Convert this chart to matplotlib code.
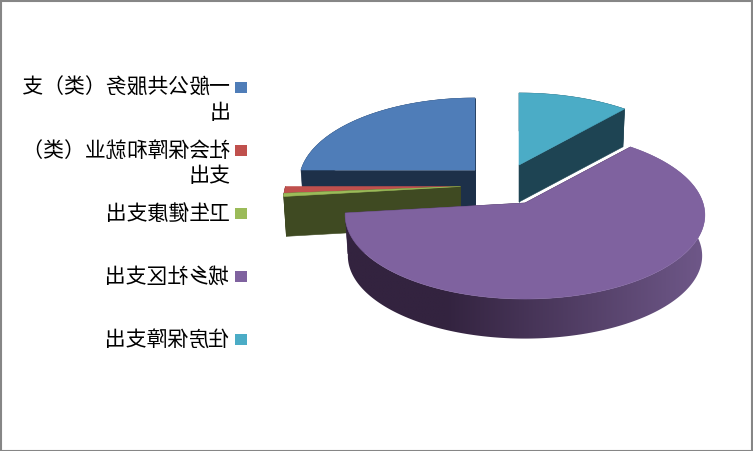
import numpy as np
import matplotlib
matplotlib.use("Agg")
import matplotlib.pyplot as plt
from matplotlib.patches import Polygon, Rectangle
from matplotlib.colors import LinearSegmentedColormap
from matplotlib.text import Text

plt.rcParams['font.family'] = ['Noto Sans CJK SC', 'DejaVu Sans']

categories = ["一般公共服务（类）支\n出", "社会保障和就业（类）\n支出", "卫生健康支出", "城乡社区支出", "住房保障支出"]
shares = [25.0, 1.3, 0.6, 61.7, 11.4]
top_colors = ["#4f7db8", "#c0504d", "#9bbb59", "#7f629f", "#4bacc6"]
side_colors = ["#1d3049", "#5a1f1e", "#3f4a22", "#33233f", "#1e4453"]
centers = [(475, 170), (460.5, 186.5), (460.5, 186.5), (525, 203), (519, 165)]
radii_x = [174, 175, 175, 178, 178]
depths = [37, 40, 40, 41, 37]
legend_y = [87.5, 150.5, 213.5, 276.5, 339]
text_y = [77, 140, 203, 266, 329]
RY, K, SHRINK = 82.3, 1 / 7, 0.985


class MirrorText(Text):
    """Real text, drawn reversed left-to-right in its own box as in the source image."""
    def draw(self, renderer):
        super().draw(renderer)
        bb = self.get_window_extent(renderer)
        h = int(renderer.height)
        x0, x1 = int(np.floor(bb.x0)) - 2, int(np.ceil(bb.x1)) + 2
        y0, y1 = h - int(np.ceil(bb.y1)) - 2, h - int(np.floor(bb.y0)) + 2
        buf = np.asarray(renderer.buffer_rgba())
        if buf.flags.writeable:
            buf[y0:y1, x0:x1] = buf[y0:y1, x0:x1][:, ::-1].copy()


def project(i, bearing, top=True, r=1.0):
    c = centers[i]
    t = np.radians(bearing)
    u, v = r * np.sin(t), r * np.cos(t)
    w = 1 + K * v
    s = 1.0 if top else SHRINK
    dy = 0 if top else depths[i]
    return c[0] + s * radii_x[i] * u / w, c[1] + dy - s * RY * v / w


fig = plt.figure(figsize=(7.53, 4.51), dpi=100)
ax = fig.add_axes([0, 0, 1, 1])
ax.axis('off')
ax.add_patch(Rectangle((0.5, 0.5), 752, 450, fc='white', ec='#868686', lw=1.5))

# bearings: wedges run counter-clockwise from twelve o'clock
ends = 360 - np.cumsum(shares) * 3.6
starts = np.concatenate([[360], ends[:-1]])
rim_cmap = LinearSegmentedColormap.from_list("rim", [(0, "#33233f"), (0.28, "#33233f"), (1, "#6f5889")])


def add_poly(pts, color, z):
    return ax.add_patch(Polygon(pts, closed=True, fc=color, ec=color, lw=0.4, zorder=z))


def draw_wedge(i, z):
    a0, a1 = starts[i], ends[i]
    arc = np.linspace(a0, a1, max(int(abs(a0 - a1)) * 2, 4))
    for a in (a0, a1):
        add_poly([project(i, a), project(i, a, r=0), project(i, a, False, 0), project(i, a, False)], side_colors[i], z)
    rim = [project(i, a) for a in arc] + [project(i, a, False) for a in arc[::-1]]
    if i == 3:
        patch = add_poly(rim, "none", z)
        grad = np.linspace(0, 1, 360).reshape(1, -1)
        im = ax.imshow(grad, cmap=rim_cmap, extent=(344, 706, 345, 140), aspect='auto', zorder=z, interpolation='bilinear')
        im.set_clip_path(patch)
    else:
        add_poly(rim, side_colors[i], z)
    add_poly([project(i, 0, r=0)] + [project(i, a) for a in arc], top_colors[i], z + 0.5)


for z, i in enumerate([0, 4, 1, 2, 3]):
    draw_wedge(i, 2 + z)

for i, cat in enumerate(categories):
    ax.add_patch(Rectangle((235, legend_y[i] - 5.5), 12, 11, fc=top_colors[i], ec='none', zorder=10))
    t = MirrorText(231, text_y[i], cat, ha='right', va='top', fontsize=15, color='black',
                   multialignment='left', linespacing=1.2, zorder=11)
    ax.add_artist(t)

ax.set_xlim(0, 753)
ax.set_ylim(451, 0)
fig.savefig("out.png", dpi=100)
